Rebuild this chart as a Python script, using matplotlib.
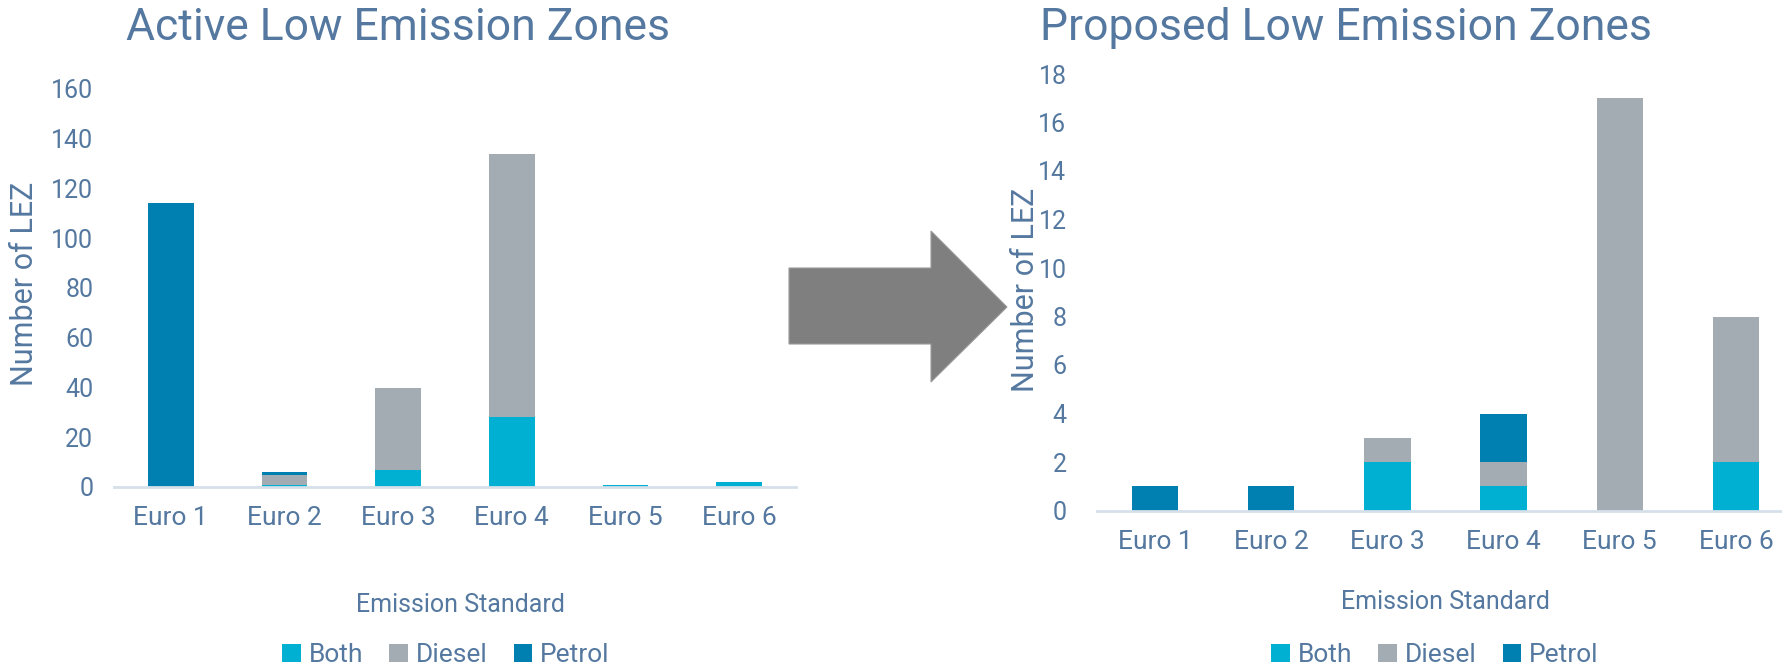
import numpy as np
import matplotlib
matplotlib.use('Agg')
import matplotlib.pyplot as plt
from matplotlib.patches import Patch, Polygon

# data: number of low emission zones by Euro standard and fuel type
standards = ['Euro 1', 'Euro 2', 'Euro 3', 'Euro 4', 'Euro 5', 'Euro 6']
fuel_types = ['Both', 'Diesel', 'Petrol']

active_both = [0, 1, 7, 28, 1, 2]
active_diesel = [0, 4, 33, 106, 0, 0]
active_petrol = [114, 1, 0, 0, 0, 0]

proposed_both = [0, 0, 2, 1, 0, 2]
proposed_diesel = [0, 0, 1, 1, 17, 6]
proposed_petrol = [1, 1, 0, 2, 0, 0]

colors = {'Both': '#00B0D3', 'Diesel': '#A2ACB2', 'Petrol': '#007FB1'}
txt = '#54789F'
axis_col = '#D6E0EA'

plt.rcParams['font.family'] = ['Roboto', 'DejaVu Sans']

W, H = 1783, 669
fig = plt.figure(figsize=(W / 100, H / 100), dpi=100)


def px(x0, y0, x1, y1):
    # pixel box (top-left origin) -> figure fraction rect
    return [x0 / W, 1 - y1 / H, (x1 - x0) / W, (y1 - y0) / H]


def stacked(ax, both, diesel, petrol, ymax, step, ypad):
    x = np.arange(len(standards))
    b = np.array(both)
    d = np.array(diesel)
    p = np.array(petrol)
    kw = dict(width=0.4, edgecolor='none')
    ax.bar(x, b, color=colors['Both'], **kw)
    ax.bar(x, d, bottom=b, color=colors['Diesel'], **kw)
    ax.bar(x, p, bottom=b + d, color=colors['Petrol'], **kw)
    ax.set_xlim(-0.5, len(standards) - 0.5)
    ax.set_ylim(0, ymax)
    ax.set_yticks(np.arange(0, ymax + 1, step))
    ax.set_xticks(x)
    ax.set_xticklabels(standards)
    for s in ['top', 'right', 'left']:
        ax.spines[s].set_visible(False)
    ax.spines['bottom'].set_color(axis_col)
    ax.spines['bottom'].set_linewidth(2)
    ax.tick_params(axis='both', length=0, colors=txt, labelsize=18)
    ax.tick_params(axis='x', pad=14, labelsize=19)
    ax.tick_params(axis='y', pad=ypad)
    for lab in ax.get_yticklabels():
        lab.set_horizontalalignment('right')


ax1 = fig.add_axes(px(114, 89, 796, 487))
stacked(ax1, active_both, active_diesel, active_petrol, 160, 20, 15)

ax2 = fig.add_axes(px(1097, 74, 1794, 510.5))
stacked(ax2, proposed_both, proposed_diesel, proposed_petrol, 18, 2, 22)

fig.text(398 / W, 1 - 28 / H, 'Active Low Emission Zones', color=txt,
         fontsize=32, ha='center', va='center')
fig.text(1346 / W, 1 - 28 / H, 'Proposed Low Emission Zones', color=txt,
         fontsize=32, ha='center', va='center')

fig.text(25 / W, 1 - 284 / H, 'Number of LEZ', color=txt, fontsize=22,
         rotation=90, ha='center', va='center')
fig.text(1026 / W, 1 - 290 / H, 'Number of LEZ', color=txt, fontsize=22,
         rotation=90, ha='center', va='center')

fig.text(460 / W, 1 - 605 / H, 'Emission Standard', color=txt, fontsize=18,
         ha='center', va='center')
fig.text(1445 / W, 1 - 602 / H, 'Emission Standard', color=txt, fontsize=18,
         ha='center', va='center')

handles = [Patch(facecolor=colors[f], edgecolor='none', label=f) for f in fuel_types]
for cx in (446, 1435):
    fig.legend(handles=handles, loc='center', bbox_to_anchor=(cx / W, 1 - 655 / H),
               ncol=3, frameon=False, fontsize=19, labelcolor=txt,
               handlelength=0.7, handleheight=0.7, handletextpad=0.3,
               columnspacing=1.0)

# big grey arrow between the two charts
arrow = [(789, 268), (931, 268), (931, 231), (1007, 307),
         (931, 382), (931, 344), (789, 344)]
fig.add_artist(Polygon([(x / W, 1 - y / H) for x, y in arrow], closed=True,
                       transform=fig.transFigure, facecolor='#7F7F7F',
                       edgecolor='#9A9A9A', linewidth=0.8))

fig.savefig('out.png', dpi=100)
